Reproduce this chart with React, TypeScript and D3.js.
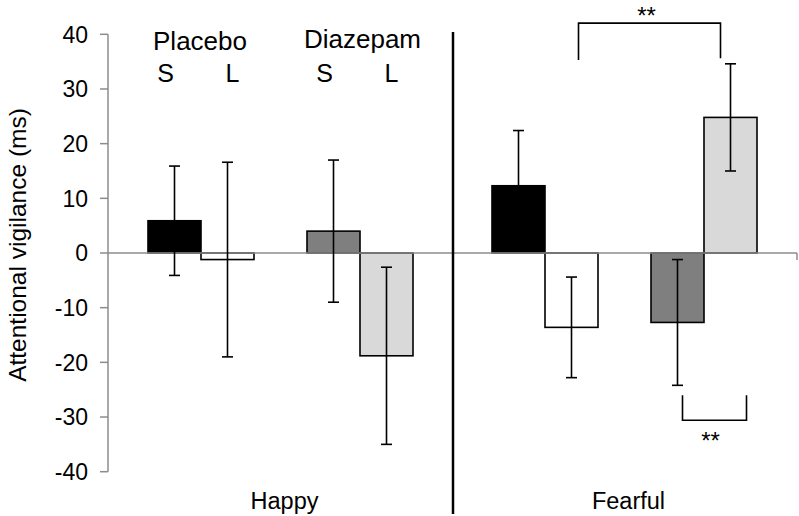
import React from "react";
import * as d3 from "d3";

const categories = ["Happy", "Fearful"];
const slots = ["Placebo S", "Placebo L", "gap", "Diazepam S", "Diazepam L"];
const series = ["Placebo S", "Placebo L", "Diazepam S", "Diazepam L"];
const seriesFill = ["#000000", "#ffffff", "#7f7f7f", "#d9d9d9"];
const happyMeans = [5.9, -1.2, 4.0, -18.8];
const happyErrors = [10.0, 17.8, 13.0, 16.2];
const fearfulMeans = [12.3, -13.6, -12.7, 24.8];
const fearfulErrors = [10.1, 9.2, 11.5, 9.8];
const yTicks = [-40, -30, -20, -10, 0, 10, 20, 30, 40];

const W = 799;
const H = 516;
const FONT = "'Liberation Sans', Arial, Helvetica, sans-serif";

export default function App() {
  const y = d3.scaleLinear().domain([-40, 40]).range([471.7, 34.3]);
  const x = d3.scaleBand<string>().domain(categories).range([108.5, 796.5]).padding(0);
  const bw = x.bandwidth();
  const inner = d3.scaleBand<string>().domain(slots).range([39.5, bw - 39.5]).padding(0);
  const w = inner.bandwidth();
  const means = [happyMeans, fearfulMeans];
  const errs = [happyErrors, fearfulErrors];
  const y0 = y(0);
  const cx = (ci: number, s: string) => (x(categories[ci]) as number) + (inner(s) as number) + w / 2;

  const bars: any[] = [];
  categories.forEach((c, ci) => {
    series.forEach((s, si) => {
      const m = means[ci][si];
      const e = errs[ci][si];
      const x0 = (x(c) as number) + (inner(s) as number);
      bars.push({ c, s, si, m, e, x0 });
    });
  });

  const divX = (x("Fearful") as number);

  const topL = cx(1, "Placebo L") + 7;
  const topR = cx(1, "Diazepam L") - 10;
  const botL = cx(1, "Diazepam S") + 5;
  const botR = cx(1, "Diazepam L") + 16;

  return (
    <div style={{ position: "fixed", left: 0, top: 0 }}>
      <svg width={W} height={H} style={{ display: "block", background: "#fff" }} fontFamily={FONT}>
        <rect x={0} y={0} width={W} height={H} fill="#fff" />
        <line x1={108} x2={108} y1={y(40)} y2={y(-40)} stroke="#8c8c8c" strokeWidth={1.5} />
        {yTicks.map((t) => (
          <g key={t}>
            <line x1={100} x2={108} y1={y(t)} y2={y(t)} stroke="#8c8c8c" strokeWidth={1.5} />
            <text x={88} y={y(t)} dy="0.36em" textAnchor="end" fontSize={23} fill="#000">
              {t}
            </text>
          </g>
        ))}
        <text
          transform={`translate(26,${245}) rotate(-90)`}
          textAnchor="middle"
          fontSize={24.5}
          fill="#000"
        >
          Attentional vigilance (ms)
        </text>

        {bars.map((b, i) => (
          <rect
            key={i}
            x={b.x0}
            y={Math.min(y(b.m), y0)}
            width={w}
            height={Math.abs(y(b.m) - y0)}
            fill={seriesFill[b.si]}
            stroke="#000"
            strokeWidth={1.6}
          />
        ))}

        <line x1={108} x2={797} y1={y0} y2={y0} stroke="#8c8c8c" strokeWidth={1.6} />
        <line x1={797} x2={797} y1={y0} y2={y0 + 7} stroke="#8c8c8c" strokeWidth={1.5} />

        {bars.map((b, i) => {
          const c = b.x0 + w / 2;
          return (
            <g key={"e" + i} stroke="#000" strokeWidth={1.6}>
              <line x1={c} x2={c} y1={y(b.m + b.e)} y2={y(b.m - b.e)} />
              <line x1={c - 5.5} x2={c + 5.5} y1={y(b.m + b.e)} y2={y(b.m + b.e)} />
              <line x1={c - 5.5} x2={c + 5.5} y1={y(b.m - b.e)} y2={y(b.m - b.e)} />
            </g>
          );
        })}

        <line x1={divX + 0.5} x2={divX + 0.5} y1={32} y2={514} stroke="#000" strokeWidth={2.5} />

        <text x={200} y={50} textAnchor="middle" fontSize={26}>Placebo</text>
        <text x={362.5} y={48} textAnchor="middle" fontSize={26}>Diazepam</text>
        <text x={cx(0, "Placebo S") - 9} y={82} textAnchor="middle" fontSize={25}>S</text>
        <text x={cx(0, "Placebo L") + 5} y={82} textAnchor="middle" fontSize={25}>L</text>
        <text x={cx(0, "Diazepam S") - 9} y={82} textAnchor="middle" fontSize={25}>S</text>
        <text x={cx(0, "Diazepam L") + 5} y={82} textAnchor="middle" fontSize={25}>L</text>

        {categories.map((c) => (
          <text key={c} x={(x(c) as number) + bw / 2 + 4} y={509} textAnchor="middle" fontSize={23.5}>
            {c}
          </text>
        ))}

        <path
          d={`M${topL},${y(35.3)}V${y(42.05)}H${topR}V${y(35.6)}`}
          fill="none"
          stroke="#000"
          strokeWidth={1.6}
        />
        <text x={(topL + topR) / 2 - 3} y={24} textAnchor="middle" fontSize={24}>**</text>
        <path
          d={`M${botL},${y(-26)}V${y(-30.6)}H${botR}V${y(-26)}`}
          fill="none"
          stroke="#000"
          strokeWidth={1.6}
        />
        <text x={(botL + botR) / 2 - 4} y={449} textAnchor="middle" fontSize={24}>**</text>
      </svg>
    </div>
  );
}
